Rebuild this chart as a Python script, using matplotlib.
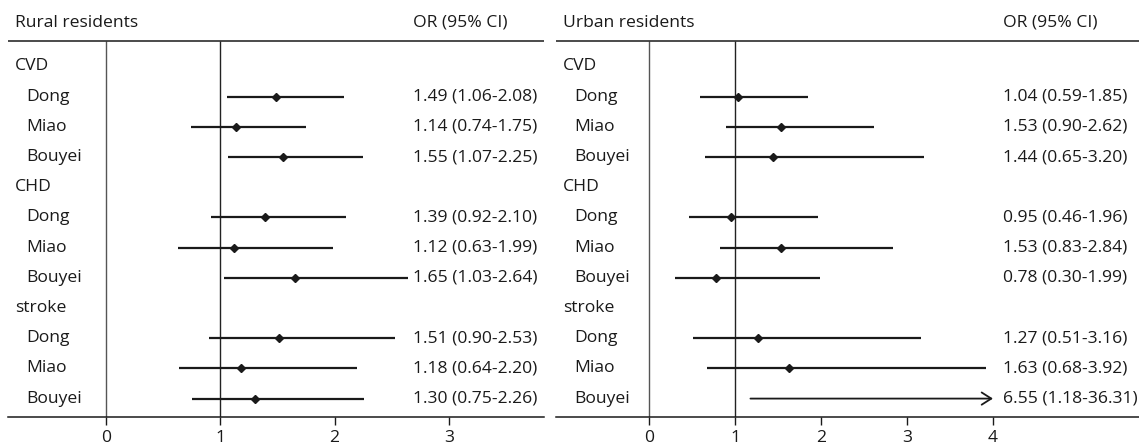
import matplotlib
matplotlib.use("Agg")
import matplotlib.pyplot as plt

plt.rcParams["font.family"] = ["Open Sans", "DejaVu Sans"]
plt.rcParams["font.size"] = 12.6

# Row structure: outcome groups, each with three ethnic subgroups
groups = ["CVD", "CHD", "stroke"]
ethnic = ["Dong", "Miao", "Bouyei"]

# Odds ratios with 95% CI, ordered CVD/CHD/stroke x Dong/Miao/Bouyei
rural_or = [1.49, 1.14, 1.55, 1.39, 1.12, 1.65, 1.51, 1.18, 1.30]
rural_lo = [1.06, 0.74, 1.07, 0.92, 0.63, 1.03, 0.90, 0.64, 0.75]
rural_hi = [2.08, 1.75, 2.25, 2.10, 1.99, 2.64, 2.53, 2.20, 2.26]

urban_or = [1.04, 1.53, 1.44, 0.95, 1.53, 0.78, 1.27, 1.63, 6.55]
urban_lo = [0.59, 0.90, 0.65, 0.46, 0.83, 0.30, 0.51, 0.68, 1.18]
urban_hi = [1.85, 2.62, 3.20, 1.96, 2.84, 1.99, 3.16, 3.92, 36.31]

rural_ticks = [0, 1, 2, 3]
urban_ticks = [0, 1, 2, 3, 4]

W, H = 1139, 446
INK = "#1a1a1a"


def draw_panel(ax, title, ors, los, his, ticks, xlim, text_x):
    n_rows = len(groups) * (len(ethnic) + 1)
    header_y = -1.44
    rule_y = -0.84
    ax.set_xlim(*xlim)
    ax.set_ylim(n_rows - 0.39, -2.2)

    for side in ("top", "left", "right"):
        ax.spines[side].set_visible(False)
    ax.spines["bottom"].set_linewidth(1.1)
    ax.spines["bottom"].set_color(INK)
    ax.set_yticks([])
    ax.set_xticks(ticks)
    ax.tick_params(axis="x", direction="out", length=6, width=1.0,
                   color=INK, labelsize=12.6, pad=3, labelcolor=INK)

    # header row and rule under it
    trans = ax.get_yaxis_transform()
    ax.annotate(title, xy=(0, header_y), xycoords=trans, xytext=(5, 0),
                textcoords="offset points", va="center", ha="left", color=INK)
    ax.text(text_x, header_y, "OR (95% CI)", transform=trans,
            va="center", ha="left", color=INK)
    ax.axhline(rule_y, color=INK, lw=1.1)

    # reference lines at 0 and 1
    ax.vlines([0, 1], rule_y, n_rows - 0.39, colors=["#555555", "#222222"],
              lw=1.0, zorder=1)

    cap = ticks[-1]
    row = 0
    k = 0
    for g in groups:
        ax.annotate(g, xy=(0, row), xycoords=trans, xytext=(5, 0),
                    textcoords="offset points", va="center", ha="left",
                    color=INK)
        row += 1
        for e in ethnic:
            ax.annotate(e, xy=(0, row), xycoords=trans, xytext=(13.5, 0),
                        textcoords="offset points", va="center", ha="left",
                        color=INK)
            o, lo, hi = ors[k], los[k], his[k]
            if hi > cap:
                ax.annotate("", xy=(cap, row), xytext=(lo, row),
                            arrowprops=dict(arrowstyle="->,head_length=0.55,head_width=0.35",
                                            color=INK, lw=1.3,
                                            shrinkA=0, shrinkB=0))
            else:
                ax.plot([lo, hi], [row, row], color=INK, lw=1.6,
                        solid_capstyle="butt")
            if o <= cap:
                ax.plot(o, row, marker="D", ms=4.0, color=INK, zorder=3)
            ax.text(text_x, row, f"{o:.2f} ({lo:.2f}-{hi:.2f})",
                    transform=trans, va="center", ha="left", color=INK)
            row += 1
            k += 1


fig = plt.figure(figsize=(W / 100, H / 100), dpi=100)

ax_rural = fig.add_axes([8 / W, 29 / H, 536 / W, 417 / H])
draw_panel(ax_rural, "Rural residents", rural_or, rural_lo, rural_hi,
           rural_ticks, (-0.857, 3.832), 405 / 536)

ax_urban = fig.add_axes([556 / W, 29 / H, 583 / W, 417 / H])
draw_panel(ax_urban, "Urban residents", urban_or, urban_lo, urban_hi,
           urban_ticks, (-1.081, 5.698), 447 / 583)

fig.savefig("out.png", dpi=100)
